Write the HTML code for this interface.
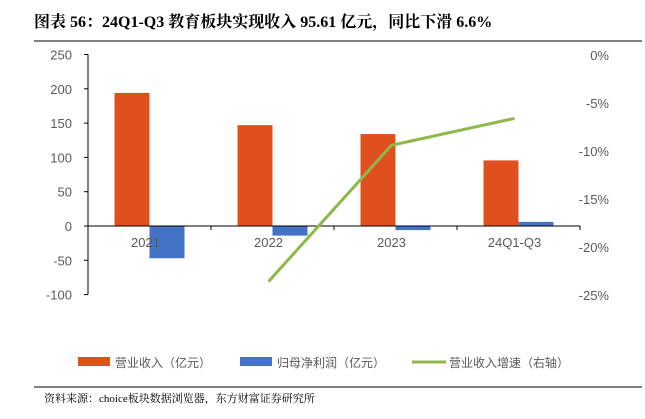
<!DOCTYPE html>
<html><head><meta charset="utf-8"><style>
body{margin:0;background:#fff;width:645px;height:414px;overflow:hidden;font-family:"Liberation Sans","Noto Sans CJK SC",sans-serif}
</style></head><body>
<svg width="645" height="414" xmlns="http://www.w3.org/2000/svg">
<text x="34" y="27" font-family="'Liberation Serif','Noto Serif CJK SC',serif" font-weight="bold" font-size="16" fill="#000">图表 56：24Q1-Q3 教育板块实现收入 95.61 亿元，同比下滑 6.6%</text>
<line x1="34" y1="41" x2="642" y2="41" stroke="#000" stroke-width="1"/>
<g id="g"></g>
<line x1="34" y1="387" x2="642" y2="387" stroke="#000" stroke-width="1"/>
<text x="44" y="402" font-family="'Liberation Serif','Noto Serif CJK SC',serif" font-size="11" fill="#000">资料来源：choice板块数据浏览器，东方财富证券研究所</text>
</svg>
<script>
const categories=["2021","2022","2023","24Q1-Q3"];
const revenue=[194,147,134,95.61];
const profit=[-47,-14,-6,6];
const growth=[null,-23.6,-9.4,-6.6];
const leftTicks=[250,200,150,100,50,0,-50,-100];
const rightTicks=[0,-5,-10,-15,-20,-25];
const NS="http://www.w3.org/2000/svg";
const g=document.getElementById('g');
const x0=88,x1=580,catW=(x1-x0)/categories.length;
const yL=v=>226-v*0.686;
const yR=v=>55+(-v)*9.6;
const cx=i=>x0+catW*(i+0.5);
function el(t,a){const e=document.createElementNS(NS,t);for(const k in a)e.setAttribute(k,a[k]);g.appendChild(e);return e;}
leftTicks.forEach(v=>{
 const t=el('text',{x:72,y:yL(v)+5,'text-anchor':'end','font-size':13,fill:'#595959'});t.textContent=v;
 
 
 const l=el('line',{x1:x0-4,x2:x0,y1:yL(v),y2:yL(v),stroke:'#000'});
 
 
});
rightTicks.forEach(v=>{
 const t=el('text',{x:609,y:yR(v)+5,'text-anchor':'end','font-size':13,fill:'#595959'});t.textContent=v+'%';
 
 
});
const ax=el('line',{x1:x0,x2:x0,y1:yL(250),y2:yL(-100),stroke:'#000'});


const bw=35;
categories.forEach((c,i)=>{
 const r=el('rect',{x:cx(i)-bw,y:Math.min(yL(revenue[i]),yL(0)),width:bw,height:Math.abs(yL(revenue[i])-yL(0)),fill:'#E0501E'});
 
 
 const p=el('rect',{x:cx(i),y:Math.min(yL(profit[i]),yL(0)),width:bw,height:Math.abs(yL(profit[i])-yL(0)),fill:'#4472C4'});
 
 
 const t=el('text',{x:cx(i)-4,y:247,'text-anchor':'middle','font-size':13,fill:'#595959'});t.textContent=c;
 
 
});
const xa=el('line',{x1:x0,x2:x1,y1:yL(0),y2:yL(0),stroke:'#000'});


for(let i=0;i<=categories.length;i++){const tk=el('line',{x1:x0+catW*i,x2:x0+catW*i,y1:yL(0),y2:yL(0)+4,stroke:'#000'});
 
 }
const pts=growth.map((v,i)=>v==null?null:(cx(i)-4)+','+yR(v)).filter(Boolean).join(' ');
const ln=el('polyline',{points:pts,fill:'none',stroke:'#8DB84A','stroke-width':3});


// legend
const lg=[["#E0501E","营业收入（亿元）",78,'rect'],["#4472C4","归母净利润（亿元）",240,'rect'],["#8DB84A","营业收入增速（右轴）",412,'line']];
lg.forEach(([col,txt,x,k])=>{
 const m=k==='rect'?el('rect',{x:x,y:357,width:32,height:9,fill:col}):el('line',{x1:x,x2:x+34,y1:362,y2:362,stroke:col,'stroke-width':3});
 
 
 const t=el('text',{x:x+37,y:367,'font-size':12,fill:'#595959'});t.textContent=txt;
 
 
});
</script>
</body></html>
